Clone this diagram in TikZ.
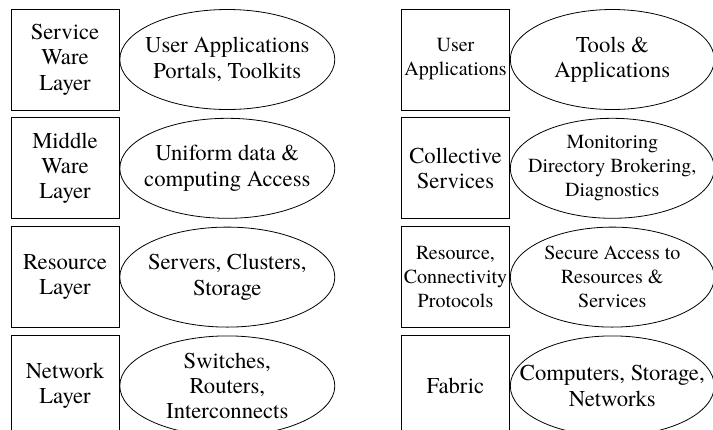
\documentclass[tikz,border=0pt]{standalone}
\usepackage{fontspec}
\setmainfont{texgyretermes}[Extension=.otf, UprightFont=*-regular, BoldFont=*-bold]
\usetikzlibrary{positioning}
\usetikzlibrary{shapes.geometric}
\newcommand{\bigtxt}{\rmfamily\fontsize{17}{19}\selectfont}
\newcommand{\smalltxt}{\rmfamily\fontsize{15}{18}\selectfont}
\tikzset{layerbox/.style={draw,rectangle,minimum width=81pt,minimum height=75.75pt,inner sep=1pt,align=center,font=\bigtxt}}
\tikzset{layerblob/.style={draw,ellipse,minimum width=161.25pt,minimum height=75pt,inner xsep=-20pt,inner ysep=-3pt,align=center,font=\bigtxt}}
\tikzset{narrowblob/.style={layerblob,minimum width=153pt}}

\begin{document}
\begin{tikzpicture}[
		x = 0.75pt, y = -0.75pt, % pixel grid
		node distance = 5.25pt, % gap between layers
		line width = 0.6pt % line style
		]
		
		\useasboundingbox (0,0) rectangle (713,429);
		
		% Left stack
		\node[layerbox] (svc) at (65,59.5) {Service\\Ware\\Layer};
		\node[layerbox] (mid) [below=of svc] {Middle\\Ware\\Layer};
		\node[layerbox] (res) [below=of mid] {Resource\\Layer};
		\node[layerbox] (net) [below=of res] {Network\\Layer};
		
		\node[layerblob] (svcd) [right=0pt of svc] {User Applications\\Portals, Toolkits};
		\node[layerblob] (midd) [right=0pt of mid] {Uniform data \&\\computing Access};
		\node[layerblob] (resd) [right=0pt of res] {Servers, Clusters,\\Storage};
		\node[layerblob] (netd) [right=0pt of net] {Switches,\\Routers,\\Interconnects};
		
		% Right stack
		\node[layerbox, font=\smalltxt] (usr) at (455.5,59.5) {User\\Applications};
		\node[layerbox] (col) [below=of usr] {Collective\\Services};
		\node[layerbox, font=\smalltxt] (rcp) [below=of col] {Resource,\\Connectivity\\Protocols};
		\node[layerbox] (fab) [below=of rcp] {Fabric};
		
		\node[narrowblob] (usrd) [right=0pt of usr] {Tools \&\\Applications};
		\node[narrowblob, font=\smalltxt] (cold) [right=0pt of col] {Monitoring\\Directory Brokering,\\Diagnostics};
		\node[narrowblob, font=\smalltxt] (rcpd) [right=0pt of rcp] {Secure Access to\\Resources \&\\Services};
		\node[narrowblob] (fabd) [right=0pt of fab] {Computers, Storage,\\Networks};
		\end{tikzpicture}
\end{document}
